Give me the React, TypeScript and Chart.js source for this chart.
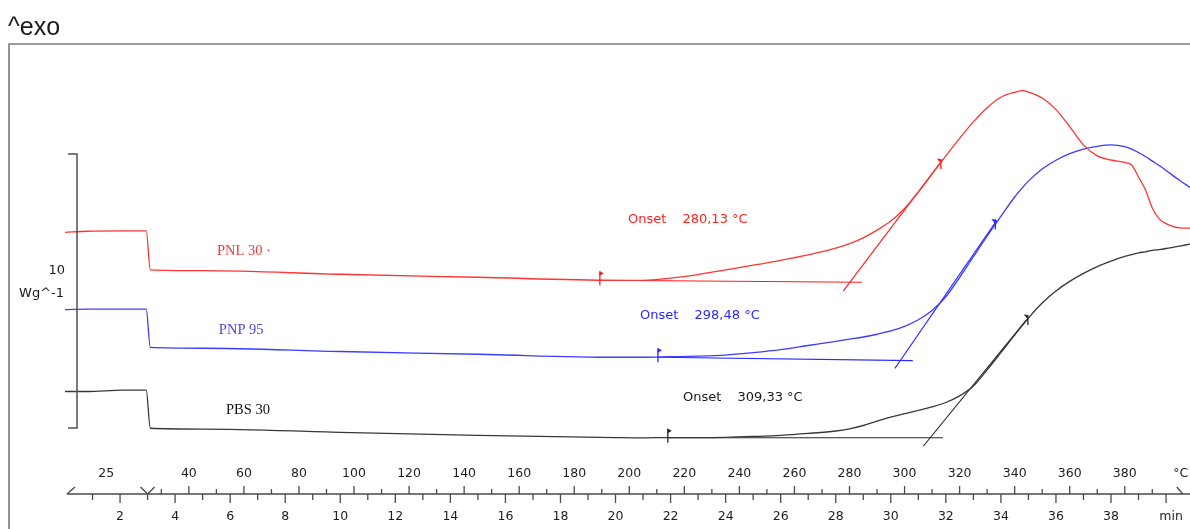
import { useEffect, useRef } from "react";
import { Chart, registerables } from "chart.js";

Chart.register(...registerables);

// Time axis of the DSC run (min). 0–3 min isothermal at 25 °C, then heating at 10 K/min.
const TIME_MIN = [
  0, 0.8, 2.1, 2.95, 3.1, 5, 10, 15, 20, 21, 22, 23, 24, 25, 26, 27, 28, 28.5, 29, 29.5, 30, 30.5, 31,
  31.5, 32, 32.5, 33, 33.5, 34, 34.5, 34.8, 35, 35.5, 36, 36.5, 37, 37.5, 38, 38.5, 38.75, 39, 39.25,
  39.5, 39.75, 40, 40.5, 40.87,
];

// Heat flow (W/g, curves shifted vertically for display)
const PNL30 = [
  9.55, 9.59, 9.6, 9.6, 8.18, 8.15, 8.02, 7.91, 7.8, 7.8, 7.88, 8.01, 8.18, 8.35, 8.53, 8.73, 8.97, 9.14,
  9.35, 9.63, 9.96, 10.42, 11.02, 11.68, 12.34, 12.98, 13.58, 14.1, 14.48, 14.66, 14.72, 14.67, 14.45,
  14.03, 13.41, 12.74, 12.34, 12.19, 12.1, 12.01, 11.57, 11.1, 10.44, 10.04, 9.87, 9.71, 9.7,
];
const PNP95 = [
  6.73, 6.75, 6.75, 6.75, 5.35, 5.32, 5.2, 5.1, 4.99, 4.99, 5.01, 5.03, 5.07, 5.16, 5.27, 5.42, 5.57,
  5.65, 5.73, 5.83, 5.95, 6.12, 6.36, 6.7, 7.2, 7.9, 8.66, 9.41, 10.13, 10.84, 11.2, 11.42, 11.86, 12.18,
  12.42, 12.59, 12.69, 12.74, 12.68, 12.59, 12.46, 12.32, 12.15, 11.99, 11.81, 11.44, 11.19,
];
const PBS30 = [
  3.74, 3.74, 3.79, 3.79, 2.4, 2.37, 2.25, 2.14, 2.06, 2.05, 2.06, 2.06, 2.07, 2.1, 2.14, 2.21, 2.3,
  2.38, 2.5, 2.66, 2.81, 2.93, 3.05, 3.18, 3.34, 3.58, 3.94, 4.53, 5.16, 5.8, 6.17, 6.42, 6.97, 7.41,
  7.76, 8.05, 8.3, 8.5, 8.67, 8.74, 8.8, 8.84, 8.89, 8.92, 8.96, 9.05, 9.12,
];

const SERIES_NAMES = ["PNL 30", "PNP 95", "PBS 30"];
const SERIES_COLORS = ["#ff3434", "#3c3cff", "#383838"];
const TANGENT_COLORS = ["#ff1a1a", "#2a2aff", "#262626"];
const TEXT_COLORS = ["#f03a3a", "#4a4ad8", "#111111"];
const ONSET_TEXT_COLORS = ["#ff2020", "#2a2aff", "#1a1a1a"];

// Onset evaluation: baseline segment, onset temperature and inflection tangent
const ONSET_C = [280.13, 298.48, 309.33];
const BASELINE_T = [
  [19.43, 28.95],
  [21.54, 30.8],
  [21.9, 31.89],
];
const BASELINE_V = [
  [7.8, 7.726],
  [4.993, 4.869],
  [2.055, 2.055],
];
const TANGENT_SLOPE = [1.327, 1.459, 1.231]; // W/g per min
const TANGENT_T = [
  [28.27, 31.89],
  [30.15, 33.85],
  [31.18, 34.94],
];
const INFLECTION_T = [31.82, 33.8, 34.98];

// Temperature program and axis labelling
const ISO_TEMP_C = 25;
const RAMP_START_MIN = 3;
const RATE_K_PER_MIN = 10;
const TEMP_TICKS_C = [30, 40, 50, 60, 70, 80, 90, 100, 110, 120, 130, 140, 150, 160, 170, 180, 190, 200, 210, 220, 230, 240, 250, 260, 270, 280, 290, 300, 310, 320, 330, 340, 350, 360, 370, 380, 390];
const TEMP_LABELS_C = [40, 60, 80, 100, 120, 140, 160, 180, 200, 220, 240, 260, 280, 300, 320, 340, 360, 380];
const TEMP_END_C = 400;
const MINUTE_TICKS = [1, 2, 3, 4, 5, 6, 7, 8, 9, 10, 11, 12, 13, 14, 15, 16, 17, 18, 19, 20, 21, 22, 23, 24, 25, 26, 27, 28, 29, 30, 31, 32, 33, 34, 35, 36, 37, 38, 39, 40];
const MINUTE_LABELS = [2, 4, 6, 8, 10, 12, 14, 16, 18, 20, 22, 24, 26, 28, 30, 32, 34, 36, 38];

// Scale bar: 10 W/g
const SCALE_BAR_WG = 10;
const SCALE_BAR_FROM = 2.41;

// Text anchors (min, W/g)
const NAME_POS = [
  [5.52, 8.87],
  [5.59, 5.985],
  [5.85, 3.066],
];
const ONSET_POS = [
  [20.45, 10.0],
  [20.89, 6.496],
  [22.45, 3.504],
];

const tempToMin = (T: number) => RAMP_START_MIN + (T - ISO_TEMP_C) / RATE_K_PER_MIN;
const baselineAt = (i: number, t: number) => {
  const [t0, t1] = BASELINE_T[i];
  const [v0, v1] = BASELINE_V[i];
  return v0 + ((v1 - v0) * (t - t0)) / (t1 - t0);
};
const onsetMin = (i: number) => tempToMin(ONSET_C[i]);
const tangentAt = (i: number, t: number) =>
  baselineAt(i, onsetMin(i)) + TANGENT_SLOPE[i] * (t - onsetMin(i));
const fmtC = (v: number) => v.toFixed(2).replace(".", ",") + " °C";

const SANS = "'DejaVu Sans', 'Noto Sans', sans-serif";

const decorPlugin = {
  id: "dscDecor",
  afterDraw(chart: any) {
    const { ctx, chartArea } = chart;
    const xs = chart.scales.x;
    const ys = chart.scales.y;
    const X = (t: number) => xs.getPixelForValue(t);
    const Y = (v: number) => ys.getPixelForValue(v);
    const W = chart.width;
    const H = chart.height;
    const line = (x1: number, y1: number, x2: number, y2: number) => {
      ctx.beginPath();
      ctx.moveTo(x1, y1);
      ctx.lineTo(x2, y2);
      ctx.stroke();
    };

    ctx.save();

    // frame
    ctx.strokeStyle = "#7b7b7b";
    ctx.lineWidth = 1.6;
    ctx.beginPath();
    ctx.moveTo(9, H);
    ctx.lineTo(9, chartArea.top);
    ctx.lineTo(W, chartArea.top);
    ctx.stroke();

    // title
    ctx.fillStyle = "#1a1a1a";
    ctx.font = "25px 'Liberation Sans', Arial, sans-serif";
    ctx.textAlign = "left";
    ctx.textBaseline = "alphabetic";
    ctx.fillText("^exo", 8, 35);

    // scale bar
    const barX = X(0) + 12;
    const yb0 = Y(SCALE_BAR_FROM);
    const yb1 = Y(SCALE_BAR_FROM + SCALE_BAR_WG);
    ctx.strokeStyle = "#505050";
    ctx.lineWidth = 1.5;
    ctx.beginPath();
    ctx.moveTo(barX - 9, yb1);
    ctx.lineTo(barX, yb1);
    ctx.lineTo(barX, yb0);
    ctx.lineTo(barX - 9, yb0);
    ctx.stroke();
    const mid = (yb0 + yb1) / 2;
    ctx.fillStyle = "#1a1a1a";
    ctx.font = `13px ${SANS}`;
    ctx.textAlign = "right";
    ctx.textBaseline = "middle";
    ctx.fillText(String(SCALE_BAR_WG), X(0), mid - 20);
    ctx.fillText("Wg^-1", X(0) - 1, mid + 3);

    // bottom axis
    const ay = chartArea.bottom;
    ctx.strokeStyle = "#4a4a4a";
    ctx.lineWidth = 1.3;
    line(X(0) + 2, ay, W, ay);
    line(X(0) + 2, ay, X(0) + 10, ay - 7);
    MINUTE_TICKS.forEach((m) => {
      const len = m % 2 === 0 ? 9 : 6;
      line(X(m), ay, X(m), ay + len);
    });
    TEMP_TICKS_C.forEach((T) => {
      const len = T % 20 === 0 ? 8 : 5;
      line(X(tempToMin(T)), ay - len, X(tempToMin(T)), ay);
    });
    const xr = X(RAMP_START_MIN);
    ctx.beginPath();
    ctx.moveTo(xr - 7, ay - 7);
    ctx.lineTo(xr, ay);
    ctx.lineTo(xr + 7, ay - 7);
    ctx.stroke();
    const xe = X(tempToMin(TEMP_END_C));
    line(xe - 3, ay - 7, xe + 3, ay);

    ctx.fillStyle = "#1e1e1e";
    ctx.font = `12.5px ${SANS}`;
    ctx.textAlign = "center";
    ctx.textBaseline = "middle";
    ctx.fillText(String(ISO_TEMP_C), X(RAMP_START_MIN / 2), ay - 20.5);
    TEMP_LABELS_C.forEach((T) => ctx.fillText(String(T), X(tempToMin(T)), ay - 20.5));
    ctx.fillText("°C", xe + 1, ay - 20.5);
    MINUTE_LABELS.forEach((m) => ctx.fillText(String(m), X(m), ay + 23));
    ctx.fillText("min", X(40) + 5, ay + 23);

    // curve names
    ctx.textAlign = "left";
    ctx.font = "14.5px 'Liberation Serif', 'Times New Roman', serif";
    SERIES_NAMES.forEach((n, i) => {
      ctx.fillStyle = TEXT_COLORS[i];
      ctx.fillText(i === 0 ? n + " ·" : n, X(NAME_POS[i][0]), Y(NAME_POS[i][1]));
    });

    // onset labels
    ctx.font = `13px ${SANS}`;
    ONSET_C.forEach((c, i) => {
      ctx.fillStyle = ONSET_TEXT_COLORS[i];
      const x0 = X(ONSET_POS[i][0]);
      const y0 = Y(ONSET_POS[i][1]);
      ctx.fillText("Onset", x0, y0);
      ctx.fillText(fmtC(c), x0 + 54.5, y0);
    });

    // evaluation limit flags
    ctx.lineWidth = 1.3;
    for (let i = 0; i < 3; i++) {
      ctx.strokeStyle = TANGENT_COLORS[i];
      ctx.fillStyle = TANGENT_COLORS[i];
      const bx = X(BASELINE_T[i][0]);
      const by = Y(BASELINE_V[i][0]);
      line(bx, by + 5, bx, by - 9);
      ctx.beginPath();
      ctx.moveTo(bx, by - 9);
      ctx.lineTo(bx + 4, by - 7);
      ctx.lineTo(bx, by - 4.5);
      ctx.closePath();
      ctx.fill();

      const fx = X(INFLECTION_T[i]);
      const fy = Y(tangentAt(i, INFLECTION_T[i]));
      line(fx, fy - 3, fx, fy + 7);
      ctx.beginPath();
      ctx.moveTo(fx, fy - 3);
      ctx.lineTo(fx - 4, fy - 3.5);
      ctx.lineTo(fx - 0.5, fy + 1);
      ctx.closePath();
      ctx.fill();
    }

    ctx.restore();
  },
};

export default function App() {
  const canvasRef = useRef<HTMLCanvasElement>(null);

  useEffect(() => {
    const canvas = canvasRef.current;
    if (!canvas) return;

    const curves = [PNL30, PNP95, PBS30].map((vals, i) => ({
      label: SERIES_NAMES[i],
      data: TIME_MIN.map((t, k) => ({ x: t, y: vals[k] })),
      borderColor: SERIES_COLORS[i],
      borderWidth: 1.3,
      pointRadius: 0,
      cubicInterpolationMode: "monotone" as const,
      fill: false,
    }));

    const baselines = BASELINE_T.map((ts, i) => ({
      label: SERIES_NAMES[i] + " baseline",
      data: ts.map((t, k) => ({ x: t, y: BASELINE_V[i][k] })),
      borderColor: TANGENT_COLORS[i],
      borderWidth: 1.1,
      pointRadius: 0,
      tension: 0,
      fill: false,
    }));

    const tangents = TANGENT_T.map((ts, i) => ({
      label: SERIES_NAMES[i] + " tangent",
      data: ts.map((t) => ({ x: t, y: tangentAt(i, t) })),
      borderColor: TANGENT_COLORS[i],
      borderWidth: 1.1,
      pointRadius: 0,
      tension: 0,
      fill: false,
    }));

    const chart = new Chart(canvas, {
      type: "line",
      data: { datasets: [...curves, ...baselines, ...tangents] as any },
      options: {
        animation: false,
        responsive: false,
        maintainAspectRatio: false,
        layout: { padding: { left: 65, right: 0, top: 44, bottom: 35 } },
        scales: {
          x: { type: "linear", min: 0, max: 40.87, display: false },
          y: { type: "linear", min: 0, max: 16.4234, display: false },
        },
        plugins: {
          legend: { display: false },
          tooltip: { enabled: false },
        },
        events: [],
      },
      plugins: [decorPlugin],
    });

    return () => chart.destroy();
  }, []);

  return (
    <div style={{ position: "fixed", left: 0, top: 0, width: 1190, height: 529, background: "#ffffff" }}>
      <canvas ref={canvasRef} width={1190} height={529} style={{ display: "block" }} />
    </div>
  );
}
